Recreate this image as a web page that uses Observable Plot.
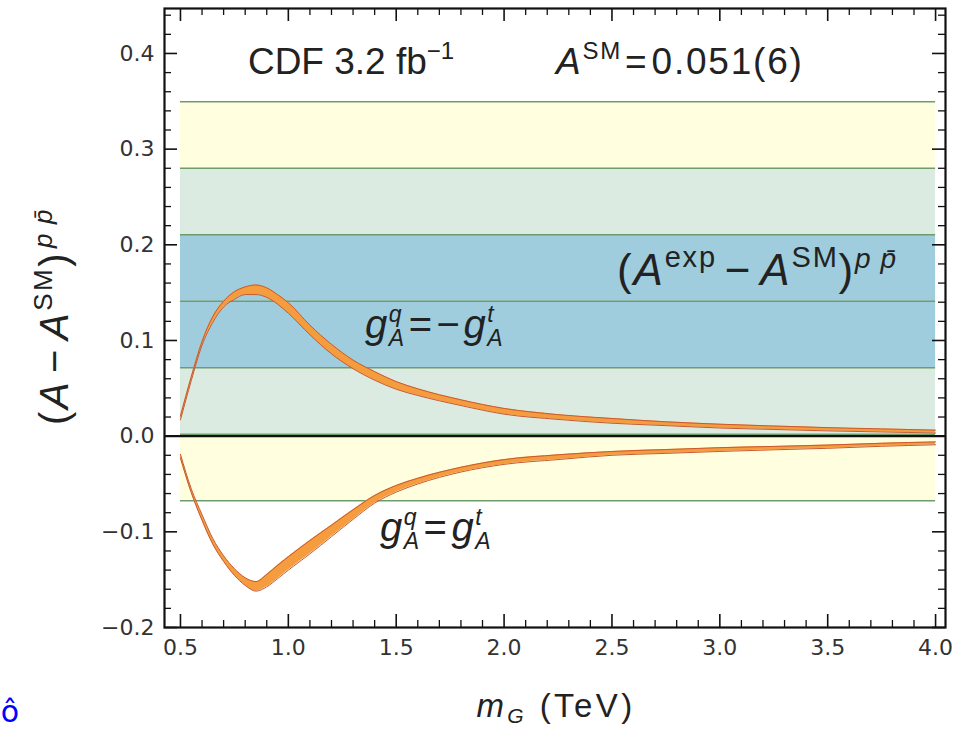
<!DOCTYPE html>
<html>
<head>
<meta charset="utf-8">
<script src="https://cdn.jsdelivr.net/npm/d3@7"></script>
<script src="https://cdn.jsdelivr.net/npm/@observablehq/plot@0.6"></script>
<style>
  body { margin: 0; background: #fff; }
  svg { display: block; }
</style>
</head>
<body>
<div id="chart"></div>
<script>
// Gluon mass grid (TeV)
const mass = [0.5, 0.55, 0.6, 0.65, 0.7, 0.75, 0.8, 0.85, 0.9, 0.95, 1.0, 1.1, 1.2, 1.3, 1.4, 1.5, 1.6, 1.8, 2.0, 2.25, 2.5, 2.75, 3.0, 3.25, 3.5, 3.75, 4.0];

// Asymmetry shift for g_A^q = -g_A^t : lower and upper edge of the band
const oppLo = [0.017, 0.058, 0.095, 0.119, 0.135, 0.143, 0.148, 0.148, 0.145, 0.138, 0.1285, 0.106, 0.086, 0.0705, 0.0585, 0.049, 0.0425, 0.032, 0.023, 0.0175, 0.0135, 0.011, 0.0085, 0.007, 0.0055, 0.0044, 0.0033];
const oppHi = [0.021, 0.062, 0.099, 0.125, 0.141, 0.151, 0.156, 0.158, 0.155, 0.148, 0.1395, 0.116, 0.096, 0.0795, 0.0675, 0.057, 0.0495, 0.038, 0.029, 0.0225, 0.0185, 0.015, 0.0125, 0.0106, 0.0089, 0.0076, 0.0063];

// Asymmetry shift for g_A^q = g_A^t : lower and upper edge of the band
const sameLo = [-0.023, -0.059, -0.088, -0.113, -0.131, -0.1455, -0.156, -0.162, -0.1575, -0.149, -0.140, -0.123, -0.105, -0.087, -0.070, -0.0585, -0.050, -0.0375, -0.0295, -0.0245, -0.020, -0.018, -0.016, -0.0143, -0.0127, -0.0106, -0.009];
const sameHi = [-0.019, -0.055, -0.082, -0.107, -0.125, -0.1385, -0.148, -0.152, -0.1445, -0.135, -0.126, -0.109, -0.093, -0.077, -0.062, -0.0515, -0.044, -0.0325, -0.0245, -0.0195, -0.016, -0.014, -0.012, -0.0107, -0.0093, -0.0074, -0.006];

// Measured (A^exp - A^SM): central value and 1, 2, 3 sigma boundaries
const bandEdges = [-0.0675, 0.002, 0.0715, 0.141, 0.2105, 0.280, 0.3495];
const bandFills = ["#ffffe0", "#dcebe2", "#9fcddd", "#9fcddd", "#dcebe2", "#ffffe0"];

// Axis ticks
const xMajor = [0.5, 1.0, 1.5, 2.0, 2.5, 3.0, 3.5, 4.0];
const yMajor = [-0.2, -0.1, 0.0, 0.1, 0.2, 0.3, 0.4];
const xMinor = d3.range(5, 41).map(d => d / 10).filter(d => !xMajor.includes(d));
const yMinor = d3.range(-10, 23).map(d => d / 50).filter(d => !yMajor.some(v => Math.abs(v - d) < 1e-9));

// Layout
const W = 956, H = 730;
const mL = 164, mR = 11, mT = 8, mB = 103;
const FW = W - mL - mR, FH = H - mT - mB;
const MAJ = 13, MIN = 7;

const curveOpp = mass.map((m, i) => ({m, lo: oppLo[i], hi: oppHi[i]}));
const curveSame = mass.map((m, i) => ({m, lo: sameLo[i], hi: sameHi[i]}));
const bands = bandFills.map((fill, i) => ({y1: bandEdges[i], y2: bandEdges[i + 1], fill}));
const [mMin, mMax] = d3.extent(mass);

const tickFont = "DejaVu Sans";
const orangeFill = "#f49c3e", orangeEdge = "#c85a30";

const chart = Plot.plot({
  width: W, height: H,
  marginLeft: mL, marginRight: mR, marginTop: mT, marginBottom: mB,
  x: {domain: [0.426, 4.046], label: null},
  y: {domain: [-0.2, 0.447], label: null},
  style: {fontFamily: "Liberation Sans", background: "#fff"},
  marks: [
    // experimental bands
    Plot.rectY(bands, {x1: mMin, x2: mMax, y1: "y1", y2: "y2", fill: d => d.fill}),
    Plot.ruleY(bandEdges, {x1: mMin, x2: mMax, stroke: "#6f9c6b", strokeWidth: 1.6}),
    Plot.ruleY([0], {stroke: "#111", strokeWidth: 2.4}),
    // model predictions
    Plot.areaY(curveOpp, {x: "m", y1: "lo", y2: "hi", fill: orangeFill, curve: "monotone-x"}),
    Plot.lineY(curveOpp, {x: "m", y: "lo", stroke: orangeEdge, strokeWidth: 1, curve: "monotone-x"}),
    Plot.lineY(curveOpp, {x: "m", y: "hi", stroke: orangeEdge, strokeWidth: 1, curve: "monotone-x"}),
    Plot.areaY(curveSame, {x: "m", y1: "lo", y2: "hi", fill: orangeFill, curve: "monotone-x"}),
    Plot.lineY(curveSame, {x: "m", y: "lo", stroke: orangeEdge, strokeWidth: 1, curve: "monotone-x"}),
    Plot.lineY(curveSame, {x: "m", y: "hi", stroke: orangeEdge, strokeWidth: 1, curve: "monotone-x"}),
    // inward frame ticks on all four sides
    Plot.tickX(xMajor, {stroke: "#111", strokeWidth: 1.6, insetTop: FH - MAJ}),
    Plot.tickX(xMinor, {stroke: "#111", strokeWidth: 1.3, insetTop: FH - MIN}),
    Plot.tickX(xMajor, {stroke: "#111", strokeWidth: 1.6, insetBottom: FH - MAJ}),
    Plot.tickX(xMinor, {stroke: "#111", strokeWidth: 1.3, insetBottom: FH - MIN}),
    Plot.tickY(yMajor, {stroke: "#111", strokeWidth: 1.6, insetRight: FW - MAJ}),
    Plot.tickY(yMinor, {stroke: "#111", strokeWidth: 1.3, insetRight: FW - MIN}),
    Plot.tickY(yMajor, {stroke: "#111", strokeWidth: 1.6, insetLeft: FW - MAJ}),
    Plot.tickY(yMinor, {stroke: "#111", strokeWidth: 1.3, insetLeft: FW - MIN}),
    Plot.frame({stroke: "#111", strokeWidth: 2.2}),
    // tick labels
    Plot.axisX(xMajor, {tickSize: 0, tickPadding: 12, label: null, tickFormat: d3.format(".1f"),
      fontSize: 22, fontFamily: tickFont, fill: "#333"}),
    Plot.axisY(yMajor, {tickSize: 0, tickPadding: 10, label: null, tickFormat: d3.format(".1f"),
      fontSize: 22, fontFamily: tickFont, fill: "#333"})
  ]
});

document.getElementById("chart").append(chart);

const xs = chart.scale("x"), ys = chart.scale("y");
const sx = v => xs.apply(v), sy = v => ys.apply(v);
const svg = d3.select(chart);

// Rich text with italic, superscript and subscript pieces.
// Each part: {t, i (italic), dy (baseline offset, px, negative = up), size, dx (extra gap), stack (back up over previous piece)}
function rich(x, y, parts, {size = 30, anchor = "start", transform = null, fill = "#222", ls = 0} = {}) {
  const text = svg.append("text")
    .attr("font-family", "Liberation Sans")
    .attr("font-size", size)
    .attr("fill", fill)
    .attr("letter-spacing", ls)
    .attr("text-anchor", anchor);
  if (transform) text.attr("transform", transform).attr("x", 0).attr("y", 0);
  else text.attr("x", x).attr("y", y);
  let cur = 0, prevWidth = 0;
  for (const p of parts) {
    const target = p.dy || 0;
    const ts = text.append("tspan")
      .attr("dy", target - cur)
      .attr("font-size", p.size || size)
      .attr("font-style", p.i ? "italic" : "normal")
      .text(p.t);
    let dx = p.dx || 0;
    if (p.stack) dx -= prevWidth;
    if (dx) ts.attr("dx", dx);
    cur = target;
    prevWidth = ts.node().getComputedTextLength();
  }
  return text;
}

// header annotations
rich(sx(0.815), sy(0.378), [
  {t: "CDF 3.2 fb"}, {t: "\u22121", dy: -15, size: 24}
], {size: 37});
rich(sx(2.243), sy(0.378), [
  {t: "A", i: true}, {t: "SM", dy: -15, size: 24}, {t: "=", dx: 3}, {t: "0.051(6)", dx: 3}
], {size: 37, ls: 1.8});

// measured band label
rich(sx(2.526), sy(0.157), [
  {t: "("}, {t: "A", i: true}, {t: "exp", dy: -18, size: 29},
  {t: "\u2212", dx: 8}, {t: "A", i: true, dx: 8}, {t: "SM", dy: -18, size: 29},
  {t: ")"}, {t: "p", i: true, dy: -17, size: 28}, {t: "p\u0304", i: true, dy: -17, size: 28, dx: 8}
], {size: 44, ls: 1.8});

// curve labels
rich(sx(1.358), sy(0.102), [
  {t: "g", i: true}, {t: "q", i: true, dy: -16, size: 23}, {t: "A", i: true, dy: 8, size: 23, stack: true},
  {t: "=", dx: 3}, {t: "\u2212", dx: 3}, {t: "g", i: true, dx: 2}, {t: "t", i: true, dy: -16, size: 23}, {t: "A", i: true, dy: 8, size: 23, stack: true}
], {size: 40, ls: 1.5});
rich(sx(1.427), sy(-0.110), [
  {t: "g", i: true}, {t: "q", i: true, dy: -16, size: 23}, {t: "A", i: true, dy: 8, size: 23, stack: true},
  {t: "=", dx: 3}, {t: "g", i: true, dx: 3}, {t: "t", i: true, dy: -16, size: 23}, {t: "A", i: true, dy: 8, size: 23, stack: true}
], {size: 40, ls: 1.5});

// axis titles
rich(556, 717, [
  {t: "m", i: true}, {t: "G", i: true, dy: 6, size: 21}, {t: " (TeV)"}
], {size: 33, anchor: "middle", ls: 3.4});
rich(0, 0, [
  {t: "("}, {t: "A", i: true}, {t: "\u2212", dx: 7}, {t: "A", i: true, dx: 7}, {t: "SM", dy: -16, size: 26},
  {t: ")"}, {t: "p", i: true, dy: -16, size: 26, dx: 3}, {t: "p\u0304", i: true, dy: -16, size: 26, dx: 7}
], {size: 40, anchor: "middle", transform: "translate(68,316) rotate(-90)", ls: 2.5});

// stray glyph at the lower-left edge
svg.append("text").attr("x", 10).attr("y", 722)
  .attr("font-family", "DejaVu Sans")
  .attr("font-size", 30).attr("fill", "#0000ff").text("\u00f4");
</script>
</body>
</html>
